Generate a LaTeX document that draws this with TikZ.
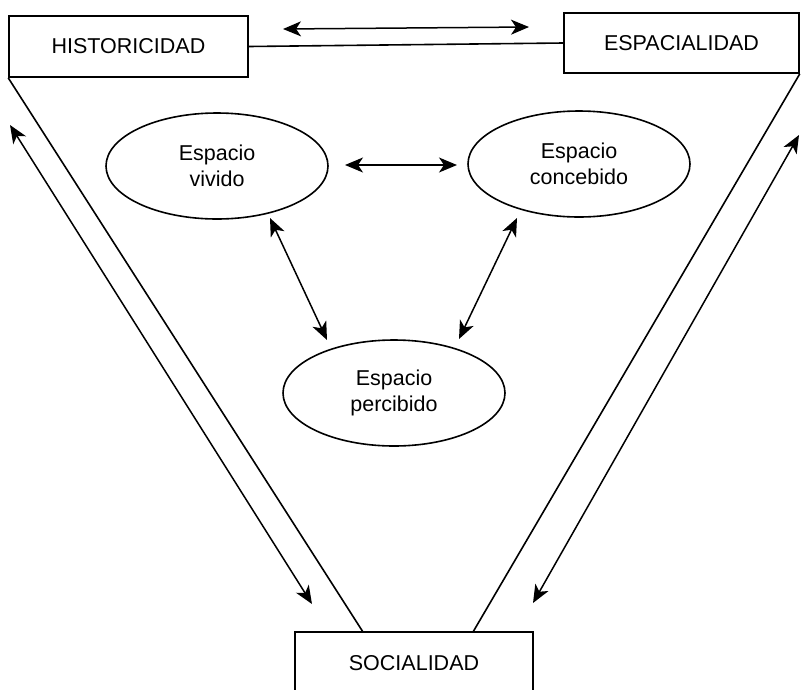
\documentclass[tikz,border=0pt]{standalone}
\usepackage{fontspec}
\setmainfont{Liberation Sans}
\usetikzlibrary{arrows.meta,shapes.geometric}
\begin{document}
\begin{tikzpicture}[x=1pt,y=-1pt,
  line width=1.6pt,
  every node/.style={font=\fontsize{21.5}{26}\selectfont, align=center},
  bigbox/.style={draw, rectangle, inner sep=0pt},
  oval/.style={draw, ellipse, minimum width=222pt, minimum height=106pt, inner sep=0pt},
  >={Stealth[length=18pt,width=15pt,inset=5pt]},
  dbl/.style={line width=1.5pt, <->}
]
\useasboundingbox (0,0) rectangle (801,689);

% outer concept boxes
\node[bigbox, minimum width=239pt, minimum height=61pt] (hist) at (128.5,46.5) {HISTORICIDAD};
\node[bigbox, minimum width=235pt, minimum height=60pt] (esp) at (681.5,43) {ESPACIALIDAD};
\node[bigbox, minimum width=238pt, minimum height=62pt] (soc) at (414,663) {SOCIALIDAD};

% inner spaces
\node[oval] (viv) at (217,166) {Espacio\\vivido};
\node[oval] (conc) at (579,164) {Espacio\\concebido};
\node[oval] (perc) at (394,393) {Espacio\\percibido};

% attachment points on the lower box
\coordinate (s1) at (363,632);
\coordinate (s2) at (473,632);

% frame lines
\draw (hist.east) -- (esp.west);
\draw (hist.south west) -- (s1);
\draw (esp.south east) -- (s2);

% outer two-way arrows
\coordinate (ta) at (283,29);
\coordinate (tb) at (529,27);
\draw[dbl] (ta) -- (tb);
\coordinate (la) at (10,125);
\coordinate (lb) at (312,604);
\draw[dbl] (la) -- (lb);
\coordinate (ra) at (533,603);
\coordinate (rb) at (799,135);
\draw[dbl] (ra) -- (rb);

% inner two-way arrows
\coordinate (ma) at (345,165);
\coordinate (mb) at (457,165);
\draw[dbl] (ma) -- (mb);
\coordinate (da) at (270,218);
\coordinate (db) at (327,340);
\draw[dbl] (da) -- (db);
\coordinate (ea) at (517,218);
\coordinate (eb) at (459,339);
\draw[dbl] (ea) -- (eb);
\end{tikzpicture}
\end{document}
